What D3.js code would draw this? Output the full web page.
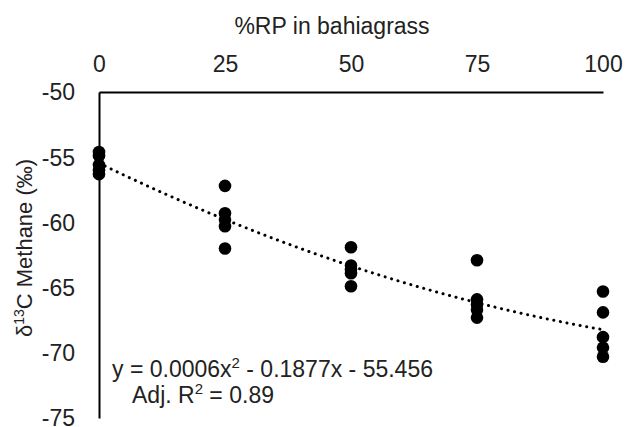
<!DOCTYPE html>
<html>
<head>
<meta charset="utf-8">
<script src="https://cdn.jsdelivr.net/npm/d3@7"></script>
<style>
  body { margin: 0; background: #fff; }
  svg { display: block; font-family: "Liberation Sans", Arial, sans-serif; }
</style>
</head>
<body>
<svg id="chart" width="625" height="427"></svg>
<script>
// %RP in bahiagrass levels and measured methane d13C (per mil), 5 reps each
const rpLevels = [0, 25, 50, 75, 100];
const methaneD13C = [
  [-54.6, -54.9, -55.6, -56.0, -56.3],
  [-57.2, -59.3, -59.8, -60.3, -62.0],
  [-61.9, -63.3, -63.6, -63.9, -64.9],
  [-62.9, -65.9, -66.3, -66.7, -67.3],
  [-65.3, -66.9, -68.8, -69.6, -70.3],
];
// quadratic fit y = a x^2 + b x + c
const fitCoef = [0.0006, -0.1877, -55.456];
const adjR2 = '0.89';
const xTicks = [0, 25, 50, 75, 100];
const yTicks = [-50, -55, -60, -65, -70, -75];

const textColor = '#222';
const fontSize = 23;

const svg = d3.select('#chart');

const x = d3.scaleLinear().domain([0, 100]).range([99, 603]);
const y = d3.scaleLinear().domain([-75, -50]).range([418, 92]);

// hyphen minus like the original, not the unicode minus d3 uses
const fmt = (d) => String(d);

// top x axis
const xAxis = svg.append('g')
  .attr('transform', `translate(0,${y(-50)})`)
  .call(d3.axisTop(x).tickValues(xTicks).tickFormat(fmt)
    .tickSize(0).tickSizeOuter(0).tickPadding(20));

// left y axis
const yAxis = svg.append('g')
  .attr('transform', `translate(${x(0)},0)`)
  .call(d3.axisLeft(y).tickValues(yTicks).tickFormat(fmt)
    .tickSize(0).tickSizeOuter(0).tickPadding(24));

[xAxis, yAxis].forEach((g) => {
  g.select('.domain').attr('stroke', '#000').attr('stroke-width', 2);
  g.selectAll('.tick text')
    .attr('fill', textColor)
    .style('font-size', fontSize + 'px')
    .style('font-family', '"Liberation Sans", Arial, sans-serif');
});
yAxis.selectAll('.tick text').attr('dy', '0.34em');

// axis titles
svg.append('text')
  .attr('x', 332)
  .attr('y', 34)
  .attr('text-anchor', 'middle')
  .attr('fill', textColor)
  .style('font-size', fontSize + 'px')
  .text('%RP in bahiagrass');

const yTitle = svg.append('text')
  .attr('transform', 'translate(32,248) rotate(-90)')
  .attr('text-anchor', 'middle')
  .attr('fill', textColor)
  .style('font-size', '22px');
yTitle.append('tspan').text('δ');
yTitle.append('tspan').attr('dy', -8).style('font-size', '14px').text('13');
yTitle.append('tspan').attr('dy', 8).text('C Methane (‰)');

// trend line
const fit = (v) => fitCoef[0] * v * v + fitCoef[1] * v + fitCoef[2];
svg.append('path')
  .datum(d3.range(0, 100.5, 1))
  .attr('fill', 'none')
  .attr('stroke', '#000')
  .attr('stroke-width', 3)
  .attr('stroke-linecap', 'round')
  .attr('stroke-dasharray', '0.1 6.6')
  .attr('d', d3.line().x((d) => x(d)).y((d) => y(fit(d))));

// points
const points = rpLevels.flatMap((lvl, i) =>
  methaneD13C[i].map((v) => ({ lvl, v }))
);
svg.append('g')
  .selectAll('circle')
  .data(points)
  .join('circle')
  .attr('cx', (d) => x(d.lvl))
  .attr('cy', (d) => y(d.v))
  .attr('r', 6.3)
  .attr('fill', '#000');

// equation label
const eq = svg.append('text')
  .attr('x', 112)
  .attr('y', 377)
  .attr('fill', textColor)
  .style('font-size', fontSize + 'px');
eq.append('tspan').text('y = 0.0006x');
eq.append('tspan').attr('dy', -9).style('font-size', '15px').text('2');
eq.append('tspan').attr('dy', 9).text(' - 0.1877x - 55.456');

const r2 = svg.append('text')
  .attr('x', 132)
  .attr('y', 403)
  .attr('fill', textColor)
  .style('font-size', fontSize + 'px');
r2.append('tspan').text('Adj. R');
r2.append('tspan').attr('dy', -9).style('font-size', '15px').text('2');
r2.append('tspan').attr('dy', 9).text(' = ' + adjR2);
</script>
</body>
</html>
